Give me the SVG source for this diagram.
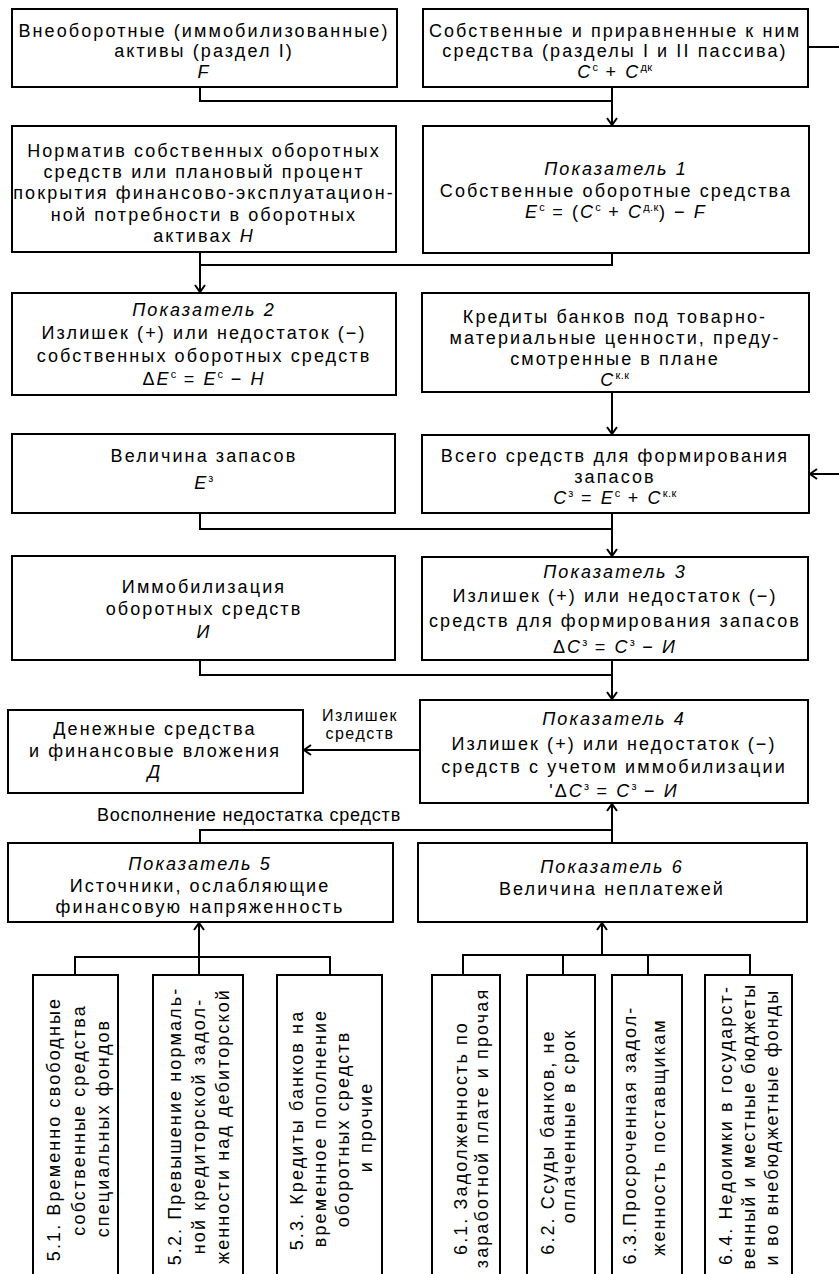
<svg xmlns="http://www.w3.org/2000/svg" width="839" height="1274" viewBox="0 0 839 1274">
<defs>
<style>
.b{fill:#fff;stroke:#000;stroke-width:2}
.t{font-family:"Liberation Sans",Arial,sans-serif;font-size:18px;letter-spacing:2.1px;text-anchor:middle;fill:#000}
.i{font-style:italic}
.s{font-size:11px;font-style:normal;letter-spacing:0.5px}
.c{fill:none;stroke:#000;stroke-width:2}
.l{font-family:"Liberation Sans",Arial,sans-serif;font-size:18px;letter-spacing:0.8px;text-anchor:middle;fill:#000}
.m{font-family:"Liberation Sans",Arial,sans-serif;font-size:16px;letter-spacing:1.5px;text-anchor:middle;fill:#000}
</style>
<marker id="a" markerWidth="12" markerHeight="12" refX="10" refY="6" orient="auto" markerUnits="userSpaceOnUse">
<path d="M3,1 L10,6 L3,11" fill="none" stroke="#000" stroke-width="2"/>
</marker>
</defs>
<rect width="839" height="1274" fill="#fff"/>

<g id="connectors">
<path class="c" d="M200,87 V101 H612"/>
<path class="c" d="M612,87 V125" marker-end="url(#a)"/>
<path class="c" d="M808,47 H839"/>
<path class="c" d="M612,253 V265 H200"/>
<path class="c" d="M200,252 V292" marker-end="url(#a)"/>
<path class="c" d="M612,392 V434" marker-end="url(#a)"/>
<path class="c" d="M839,474 H810" marker-end="url(#a)"/>
<path class="c" d="M200,513 V529 H612"/>
<path class="c" d="M612,513 V556" marker-end="url(#a)"/>
<path class="c" d="M200,660 V675 H612"/>
<path class="c" d="M612,660 V699" marker-end="url(#a)"/>
<path class="c" d="M420,750 H304" marker-end="url(#a)"/>
<path class="c" d="M200,843 V830 H612"/>
<path class="c" d="M612,843 V804" marker-end="url(#a)"/>
<path class="c" d="M199,975 V923" marker-end="url(#a)"/>
<path class="c" d="M75,975 V957 H330 V975"/>
<path class="c" d="M602,955 V923" marker-end="url(#a)"/>
<path class="c" d="M463,975 V955 H750 V975"/>
<path class="c" d="M563,955 V975"/>
<path class="c" d="M648,955 V975"/>
<text class="m" x="360" y="721">Излишек</text>
<text class="m" x="360" y="739">средств</text>
<text class="l" x="249" y="821">Восполнение недостатка средств</text>
</g>

<g id="n1">
<rect class="b" x="12" y="9" width="385" height="78"/>
<text class="t" x="204" y="36.5">Внеоборотные (иммобилизованные)</text>
<text class="t" x="204" y="57">активы (раздел I)</text>
<text class="t i" x="204" y="77.5">F</text>
</g>

<g id="n2">
<rect class="b" x="423" y="9" width="385" height="78"/>
<text class="t" x="615" y="36.5">Собственные и приравненные к ним</text>
<text class="t" x="615" y="57">средства (разделы I и II пассива)</text>
<text class="t" x="615" y="78"><tspan class="i">C</tspan><tspan class="s" dy="-7">с</tspan><tspan dy="7"> + </tspan><tspan class="i">C</tspan><tspan class="s" dy="-7">дк</tspan></text>
</g>

<g id="n3">
<rect class="b" x="12" y="126" width="384" height="126"/>
<text class="t" x="204" y="157">Норматив собственных оборотных</text>
<text class="t" x="204" y="178">средств или плановый процент</text>
<text class="t" x="204" y="199">покрытия финансово-эксплуатацион-</text>
<text class="t" x="204" y="221">ной потребности в оборотных</text>
<text class="t" x="204" y="242">активах <tspan class="i">Н</tspan></text>
</g>

<g id="n4">
<rect class="b" x="423" y="126" width="386" height="127"/>
<text class="t i" x="616" y="175">Показатель 1</text>
<text class="t" x="616" y="197">Собственные оборотные средства</text>
<text class="t" x="616" y="218"><tspan class="i">E</tspan><tspan class="s" dy="-7">с</tspan><tspan dy="7"> = (</tspan><tspan class="i">C</tspan><tspan class="s" dy="-7">с</tspan><tspan dy="7"> + </tspan><tspan class="i">C</tspan><tspan class="s" dy="-7">д.к</tspan><tspan dy="7">) − </tspan><tspan class="i">F</tspan></text>
</g>

<g id="n5">
<rect class="b" x="12" y="293" width="384" height="102"/>
<text class="t i" x="204" y="316">Показатель 2</text>
<text class="t" x="204" y="339">Излишек (+) или недостаток (−)</text>
<text class="t" x="204" y="362">собственных оборотных средств</text>
<text class="t" x="204" y="385">Δ<tspan class="i">E</tspan><tspan class="s" dy="-7">с</tspan><tspan dy="7"> = </tspan><tspan class="i">E</tspan><tspan class="s" dy="-7">с</tspan><tspan dy="7"> − </tspan><tspan class="i">Н</tspan></text>
</g>

<g id="n6">
<rect class="b" x="422" y="293" width="387" height="99"/>
<text class="t" x="615" y="323">Кредиты банков под товарно-</text>
<text class="t" x="615" y="344">материальные ценности, преду-</text>
<text class="t" x="615" y="365">смотренные в плане</text>
<text class="t" x="615" y="386"><tspan class="i">C</tspan><tspan class="s" dy="-7">к.к</tspan></text>
</g>

<g id="n7">
<rect class="b" x="12" y="434" width="383" height="79"/>
<text class="t" x="204" y="462">Величина запасов</text>
<text class="t" x="204" y="489"><tspan class="i">E</tspan><tspan class="s" dy="-7">з</tspan></text>
</g>

<g id="n8">
<rect class="b" x="422" y="435" width="387" height="78"/>
<text class="t" x="615" y="462">Всего средств для формирования</text>
<text class="t" x="615" y="482.5">запасов</text>
<text class="t" x="615" y="504"><tspan class="i">C</tspan><tspan class="s" dy="-7">з</tspan><tspan dy="7"> = </tspan><tspan class="i">E</tspan><tspan class="s" dy="-7">с</tspan><tspan dy="7"> + </tspan><tspan class="i">C</tspan><tspan class="s" dy="-7">к.к</tspan></text>
</g>

<g id="n9">
<rect class="b" x="12" y="556" width="383" height="104"/>
<text class="t" x="204" y="593">Иммобилизация</text>
<text class="t" x="204" y="615">оборотных средств</text>
<text class="t i" x="204" y="638">И</text>
</g>

<g id="n10">
<rect class="b" x="422" y="557" width="386" height="103"/>
<text class="t i" x="615" y="578">Показатель 3</text>
<text class="t" x="615" y="602">Излишек (+) или недостаток (−)</text>
<text class="t" x="615" y="627">средств для формирования запасов</text>
<text class="t" x="615" y="653">Δ<tspan class="i">C</tspan><tspan class="s" dy="-7">з</tspan><tspan dy="7"> = </tspan><tspan class="i">C</tspan><tspan class="s" dy="-7">з</tspan><tspan dy="7"> − </tspan><tspan class="i">И</tspan></text>
</g>

<g id="n11">
<rect class="b" x="8" y="710" width="295" height="83"/>
<text class="t" x="155" y="735">Денежные средства</text>
<text class="t" x="155" y="757">и финансовые вложения</text>
<text class="t i" x="155" y="778">Д</text>
</g>

<g id="n12">
<rect class="b" x="420" y="700" width="388" height="103"/>
<text class="t i" x="614" y="725">Показатель 4</text>
<text class="t" x="614" y="750">Излишек (+) или недостаток (−)</text>
<text class="t" x="614" y="773">средств с учетом иммобилизации</text>
<text class="t" x="614" y="797">'Δ<tspan class="i">C</tspan><tspan class="s" dy="-7">з</tspan><tspan dy="7"> = </tspan><tspan class="i">C</tspan><tspan class="s" dy="-7">з</tspan><tspan dy="7"> − </tspan><tspan class="i">И</tspan></text>
</g>

<g id="n13">
<rect class="b" x="8" y="843" width="385" height="79"/>
<text class="t i" x="200" y="870">Показатель 5</text>
<text class="t" x="200" y="892">Источники, ослабляющие</text>
<text class="t" x="200" y="913">финансовую напряженность</text>
</g>

<g id="n14">
<rect class="b" x="418" y="843" width="389" height="79"/>
<text class="t i" x="612" y="873">Показатель 6</text>
<text class="t" x="612" y="895">Величина неплатежей</text>
</g>

<g id="n51">
<rect class="b" x="33" y="975" width="85" height="320"/>
<text class="t" transform="translate(60,1129) rotate(-90)">5.1. Временно свободные</text>
<text class="t" transform="translate(85,1120) rotate(-90)">собственные средства</text>
<text class="t" transform="translate(109,1128) rotate(-90)">специальных фондов</text>
</g>

<g id="n52">
<rect class="b" x="153" y="975" width="90" height="320"/>
<text class="t" transform="translate(181,1126) rotate(-90)">5.2. Превышение нормаль-</text>
<text class="t" transform="translate(205,1126) rotate(-90)">ной кредиторской задол-</text>
<text class="t" transform="translate(229,1126) rotate(-90)">женности над дебиторской</text>
</g>

<g id="n53">
<rect class="b" x="277" y="975" width="105" height="320"/>
<text class="t" transform="translate(303,1130) rotate(-90)">5.3. Кредиты банков на</text>
<text class="t" transform="translate(326,1128) rotate(-90)">временное пополнение</text>
<text class="t" transform="translate(349,1129) rotate(-90)">оборотных средств</text>
<text class="t" transform="translate(372,1127) rotate(-90)">и прочие</text>
</g>

<g id="n61">
<rect class="b" x="432" y="975" width="68" height="320"/>
<text class="t" transform="translate(467,1138) rotate(-90)">6.1. Задолженность по</text>
<text class="t" transform="translate(488,1128) rotate(-90)">заработной плате и прочая</text>
</g>

<g id="n62">
<rect class="b" x="527" y="975" width="68" height="320"/>
<text class="t" transform="translate(554,1142) rotate(-90)">6.2. Ссуды банков, не</text>
<text class="t" transform="translate(575,1126) rotate(-90)">оплаченные в срок</text>
</g>

<g id="n63">
<rect class="b" x="612" y="975" width="70" height="320"/>
<text class="t" transform="translate(636,1135) rotate(-90)">6.3.Просроченная задол-</text>
<text class="t" transform="translate(665,1137) rotate(-90)">женность поставщикам</text>
</g>

<g id="n64">
<rect class="b" x="705" y="975" width="87" height="320"/>
<text class="t" transform="translate(732,1125) rotate(-90)">6.4. Недоимки в государст-</text>
<text class="t" transform="translate(755,1126) rotate(-90)">венный и местные бюджеты</text>
<text class="t" transform="translate(778,1127) rotate(-90)">и во внебюджетные фонды</text>
</g>
</svg>
